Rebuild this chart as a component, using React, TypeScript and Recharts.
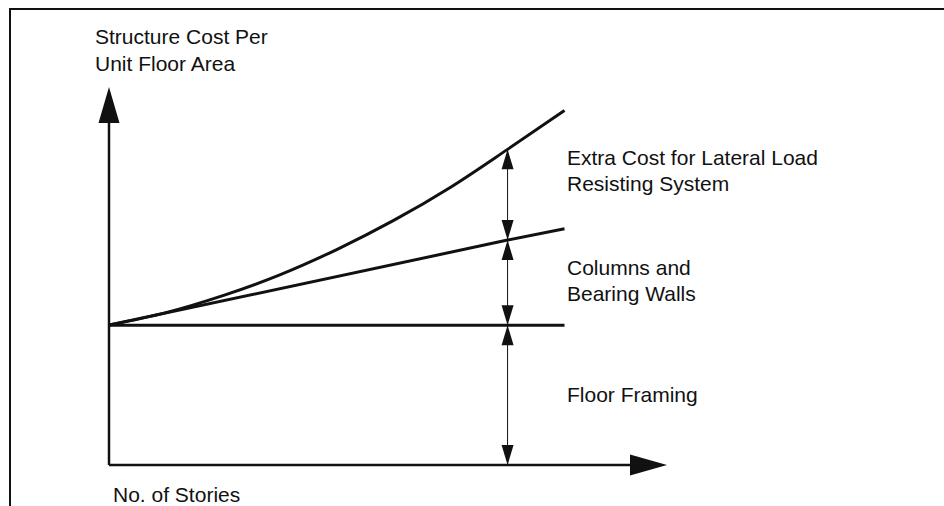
import { ComposedChart, Line, XAxis, YAxis, ReferenceLine, ReferenceDot } from "recharts";

// stories vs. structure cost per unit floor area (relative units)
const stories = [0, 1, 2, 3, 4, 5, 6, 7, 8];
const totalCost = [37, 40.3, 44.8, 50.3, 57, 64.7, 73.5, 83.5, 93.8];

const columnStories = [0, 7, 8];
const columnCost = [37, 59.5, 62.5];

const floorStories = [0, 8];
const floorCost = [37, 37];

const markerStory = 7;

const rightLabels = [
  { lines: ["Extra Cost for Lateral Load", "Resisting System"], y: 165 },
  { lines: ["Columns and", "Bearing Walls"], y: 275 },
  { lines: ["Floor Framing"], y: 402 },
];

const totalData = stories.map((s, i) => ({ x: s, y: totalCost[i] }));
const columnData = columnStories.map((s, i) => ({ x: s, y: columnCost[i] }));
const floorData = floorStories.map((s, i) => ({ x: s, y: floorCost[i] }));

const totalAtMarker = totalCost[stories.indexOf(markerStory)];
const columnAtMarker = columnCost[columnStories.indexOf(markerStory)];

const INK = "#111";
const FONT = "'Liberation Sans', Arial, Helvetica, sans-serif";
const X_MAX = 9.8;
const Y_MAX = 100;

// small triangle with its tip on (cx, cy)
function arrowHead(dir: "up" | "down" | "right", len: number, half: number) {
  return (props: any) => {
    const { cx, cy } = props;
    let pts = "";
    if (dir === "up") pts = `${cx},${cy} ${cx - half},${cy + len} ${cx + half},${cy + len}`;
    if (dir === "down") pts = `${cx},${cy} ${cx - half},${cy - len} ${cx + half},${cy - len}`;
    if (dir === "right") pts = `${cx},${cy} ${cx - len},${cy - half} ${cx - len},${cy + half}`;
    return <polygon points={pts} fill={INK} stroke="none" />;
  };
}

export default function App() {
  return (
    <div style={{ position: "absolute", left: 0, top: 0, width: 944, height: 506, background: "#fff" }}>
      {/* outer frame of the scanned figure */}
      <div
        style={{
          position: "absolute",
          left: 9,
          top: 8,
          width: 933,
          height: 496,
          borderLeft: `2px solid ${INK}`,
          borderTop: `2px solid ${INK}`,
        }}
      />
      <ComposedChart
        width={944}
        height={506}
        margin={{ top: 87, left: 109, right: 277, bottom: 41 }}
        style={{ position: "absolute", left: 0, top: 0 }}
      >
        <XAxis type="number" dataKey="x" domain={[0, X_MAX]} hide allowDataOverflow />
        <YAxis type="number" dataKey="y" domain={[0, Y_MAX]} hide allowDataOverflow />

        {/* axes */}
        <ReferenceLine
          segment={[{ x: 0, y: 0 }, { x: 0, y: 91 }]}
          stroke={INK}
          strokeWidth={2.5}
          ifOverflow="visible"
        />
        <ReferenceLine
          segment={[{ x: 0, y: 0 }, { x: 9.2, y: 0 }]}
          stroke={INK}
          strokeWidth={2.5}
          ifOverflow="visible"
        />
        <ReferenceDot x={0} y={Y_MAX} r={0} ifOverflow="visible" shape={arrowHead("up", 36, 10.5)} />
        <ReferenceDot x={X_MAX} y={0} r={0} ifOverflow="visible" shape={arrowHead("right", 37, 10.5)} />

        {/* dimension line */}
        <ReferenceLine
          segment={[{ x: markerStory, y: 0 }, { x: markerStory, y: totalAtMarker }]}
          stroke={INK}
          strokeWidth={1}
          ifOverflow="visible"
        />

        <Line data={floorData} dataKey="y" type="linear" stroke={INK} strokeWidth={3} dot={false} isAnimationActive={false} />
        <Line data={columnData} dataKey="y" type="linear" stroke={INK} strokeWidth={3} dot={false} isAnimationActive={false} />
        <Line data={totalData} dataKey="y" type="monotone" stroke={INK} strokeWidth={3} dot={false} isAnimationActive={false} />

        {/* dimension arrows */}
        <ReferenceDot x={markerStory} y={totalAtMarker} r={0} ifOverflow="visible" shape={arrowHead("up", 20, 6)} />
        <ReferenceDot x={markerStory} y={columnAtMarker} r={0} ifOverflow="visible" shape={arrowHead("down", 20, 6)} />
        <ReferenceDot x={markerStory} y={columnAtMarker} r={0} ifOverflow="visible" shape={arrowHead("up", 20, 6)} />
        <ReferenceDot x={markerStory} y={floorCost[0]} r={0} ifOverflow="visible" shape={arrowHead("down", 20, 6)} />
        <ReferenceDot x={markerStory} y={floorCost[0]} r={0} ifOverflow="visible" shape={arrowHead("up", 20, 6)} />
        <ReferenceDot x={markerStory} y={0} r={0} ifOverflow="visible" shape={arrowHead("down", 20, 6)} />
      </ComposedChart>

      {/* text labels */}
      <svg width={944} height={506} style={{ position: "absolute", left: 0, top: 0, pointerEvents: "none" }}>
        <g fontFamily={FONT} fontSize={21} fill={INK}>
          <text x={95} y={44}>Structure Cost Per</text>
          <text x={95} y={71}>Unit Floor Area</text>
          <text x={113} y={502}>No. of Stories</text>
          {rightLabels.map((l) =>
            l.lines.map((t, i) => (
              <text key={t} x={567} y={l.y + i * 26}>
                {t}
              </text>
            ))
          )}
        </g>
      </svg>
    </div>
  );
}
